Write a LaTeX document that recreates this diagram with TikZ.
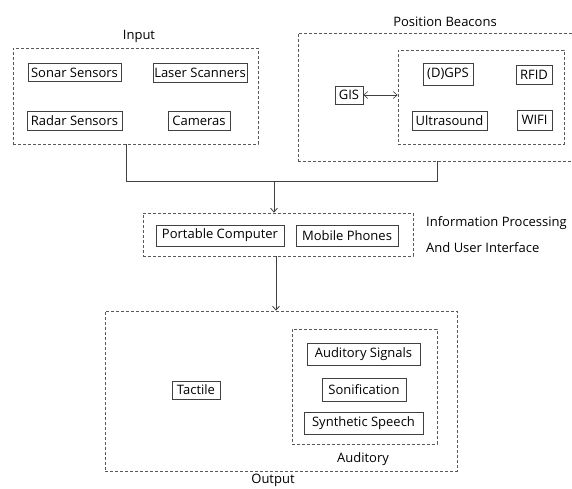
\documentclass[tikz,border=0pt]{standalone}
\usepackage{fontspec}
\setmainfont{Open Sans}
\usetikzlibrary{arrows.meta,positioning}
\begin{document}
\begin{tikzpicture}[x=1pt,y=-1pt,
  item/.style={draw=black!75,line width=0.7pt,inner sep=0pt,font=\fontsize{13}{15}\selectfont,text=black},
  group/.style={draw=black!65,dashed,dash pattern=on 3pt off 2pt,line width=0.7pt,inner sep=0pt},
  lbl/.style={font=\fontsize{13}{15}\selectfont,text=black,inner sep=0pt},
  conn/.style={draw=black!75,line width=0.8pt},
  >={Straight Barb[length=4pt,width=7pt]}]
\useasboundingbox (0,0) rectangle (572,488);
% Input
\node[group,minimum width=245pt,minimum height=96pt] (inbox) at (135.5,96) {};
\node[lbl] (inlbl) at (139,36) {Input};
\node[item,minimum width=93pt,minimum height=18pt] (sonar) at (74.5,72.5) {Sonar Sensors};
\node[item,minimum width=94pt,minimum height=19pt] (laser) at (200,72.5) {Laser Scanners};
\node[item,minimum width=95pt,minimum height=19pt] (radar) at (74.5,120.5) {Radar Sensors};
\node[item,minimum width=62pt,minimum height=19pt] (cam) at (199,120.5) {Cameras};
% Position Beacons
\node[group,minimum width=278pt,minimum height=128pt] (posbox) at (437,97) {};
\node[lbl] (poslbl) at (445,22) {Position Beacons};
\node[group,minimum width=166pt,minimum height=94pt] (beac) at (481,97) {};
\node[item,minimum width=50pt,minimum height=22pt] (gps) at (448,74) {(D)GPS};
\node[item,minimum width=36pt,minimum height=19pt] (rfid) at (534,74.5) {RFID};
\node[item,minimum width=75pt,minimum height=19pt] (ultra) at (449.5,120.5) {Ultrasound};
\node[item,minimum width=35pt,minimum height=20pt] (wifi) at (534.5,120) {WIFI};
\node[item,minimum width=28pt,minimum height=18pt] (gis) at (349,95) {GIS};
\draw[conn,line width=0.6pt,<->] (gis.east) -- (beac.west |- gis.east);
% Processing
\node[group,minimum width=270pt,minimum height=43pt] (proc) at (278,234.5) {};
\node[item,minimum width=128pt,minimum height=21pt] (pc) at (220,235.5) {Portable Computer};
\node[item,minimum width=102pt,minimum height=21pt] (mob) at (347,235.5) {Mobile Phones};
\node[lbl,anchor=west] (proclbl1) at (426,223) {Information Processing};
\node[lbl,anchor=west] (proclbl2) at (426,248) {And User Interface};
% Output
\node[group,minimum width=352pt,minimum height=160pt] (outbox) at (281,391) {};
\node[lbl] (outlbl) at (273,480) {Output};
\node[group,minimum width=145pt,minimum height=115pt] (aud) at (364.5,386.5) {};
\node[lbl] (audlbl) at (363,459) {Auditory};
\node[item,minimum width=113pt,minimum height=22pt] (asig) at (363.5,354) {Auditory Signals};
\node[item,minimum width=84pt,minimum height=23pt] (son) at (364,389.5) {Sonification};
\node[item,minimum width=119pt,minimum height=22pt] (synth) at (363.5,423) {Synthetic Speech};
\node[item,minimum width=48pt,minimum height=18pt] (tact) at (196,390) {Tactile};
% connectors
\coordinate (jl) at (126,181);
\coordinate (jr) at (437,181);
\coordinate (jm) at (274,181);
\draw[conn] (inbox.south -| jl) -- (jl) -- (jr) -- (posbox.south -| jr);
\draw[conn,->] (jm) -- (proc.north -| jm);
\draw[conn,->] (proc.south -| 276,0) -- (outbox.north -| 276,0);
\end{tikzpicture}
\end{document}
